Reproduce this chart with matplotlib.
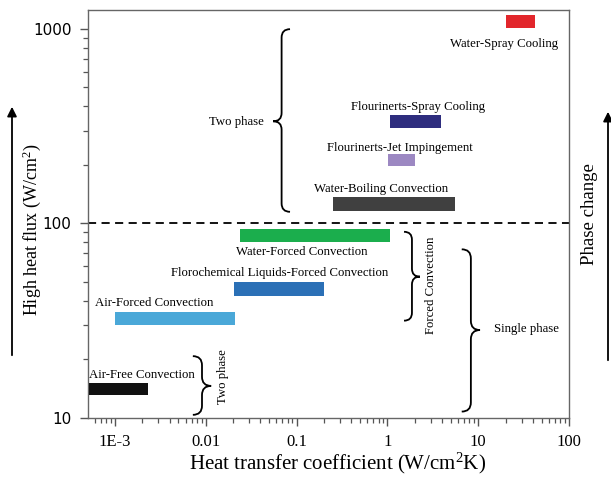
import numpy as np
import matplotlib
matplotlib.use("Agg")
import matplotlib.pyplot as plt
from matplotlib.path import Path
from matplotlib.patches import PathPatch
from matplotlib.ticker import FixedLocator, LogLocator, NullFormatter

# heat transfer coefficient ranges (W/cm2K) and heat flux ranges (W/cm2)
methods = ["Air-Free Convection", "Air-Forced Convection",
           "Florochemical Liquids-Forced Convection", "Water-Forced Convection",
           "Water-Boiling Convection", "Flourinerts-Jet Impingement",
           "Flourinerts-Spray Cooling", "Water-Spray Cooling"]
h_low = [5.2e-4, 1.0e-3, 0.0206, 0.0238, 0.254, 1.02, 1.08, 20.4]
h_high = [2.29e-3, 0.0211, 0.20, 1.07, 5.6, 2.03, 3.86, 42.0]
q_low = [13.1, 30.0, 42.4, 79.8, 115.8, 196, 308, 1016]
q_high = [15.1, 35.1, 50.0, 93.0, 136.8, 226, 359, 1180]
colors = ["#111111", "#4aa8d8", "#2b70b6", "#1bae4d",
          "#404040", "#9c88c2", "#2e2d7e", "#e2262b"]

# where the method names sit (data coords)
label_x = [1.98e-3, 2.69e-3, 0.0656, 0.115, 0.85, 1.38, 2.17, 19.2]
label_y = [16.6, 39.0, 55.6, 71.3, 150, 244, 395, 834]

xticks = [1e-3, 0.01, 0.1, 1, 10, 100]
xtick_labels = ["1E-3", "0.01", "0.1", "1", "10", "100"]
yticks = [10, 100, 1000]
ytick_labels = ["10", "100", "1000"]

SERIF = "Liberation Serif"
plt.rcParams["mathtext.fontset"] = "custom"
plt.rcParams["mathtext.rm"] = SERIF
plt.rcParams["mathtext.it"] = SERIF + ":italic"

fig = plt.figure(figsize=(6.11, 4.79), dpi=100)
W, H = 611, 479
ax = fig.add_axes([88 / W, (H - 417.7) / H, 481 / W, 407.7 / H])
ax.set_xscale("log")
ax.set_yscale("log")
ax.set_xlim(5.05e-4, 100)
ax.set_ylim(10, 1250)

ax.barh(q_low, np.array(h_high) - np.array(h_low), left=h_low,
        height=np.array(q_high) - np.array(q_low), align="edge",
        color=colors, edgecolor="none", zorder=3)

FS = 9.2
for name, x, y in zip(methods, label_x, label_y):
    ax.text(x, y, name, ha="center", va="center", fontsize=FS,
            family=SERIF, zorder=4)

ax.axhline(100, color="black", lw=1.3, ls=(0, (4.5, 3)), zorder=2)

# group labels
ax.text(0.0438, 333, "Two phase", ha="right", va="center", fontsize=FS, family=SERIF)
ax.text(0.0153, 16.3, "Two phase", ha="center", va="center", rotation=90,
        fontsize=FS, family=SERIF)
ax.text(3.0, 48, "Forced Convection", ha="center", va="center", rotation=90,
        fontsize=FS, family=SERIF)
ax.text(34.2, 28.5, "Single phase", ha="center", va="center", fontsize=FS, family=SERIF)


def brace(ax, x_end, x_tip, y_top, y_bot, y_tip):
    # curly brace in axes fraction, vertical
    bb = ax.get_position()
    axw = bb.width * W
    axh = bb.height * H
    xm = (x_end + x_tip) / 2
    hy = abs(x_tip - x_end) / 2 * axw / axh
    verts = [(x_end, y_top), (xm, y_top), (xm, y_top - hy),
             (xm, y_tip + hy), (xm, y_tip), (x_tip, y_tip),
             (xm, y_tip), (xm, y_tip - hy),
             (xm, y_bot + hy), (xm, y_bot), (x_end, y_bot)]
    codes = [Path.MOVETO, Path.CURVE3, Path.CURVE3,
             Path.LINETO, Path.CURVE3, Path.CURVE3,
             Path.CURVE3, Path.CURVE3,
             Path.LINETO, Path.CURVE3, Path.CURVE3]
    ax.add_patch(PathPatch(Path(verts, codes), transform=ax.transAxes,
                           fill=False, lw=1.3, color="black", clip_on=False))


brace(ax, 0.420, 0.385, 0.953, 0.505, 0.727)
brace(ax, 0.218, 0.256, 0.151, 0.007, 0.078)
brace(ax, 0.657, 0.690, 0.456, 0.238, 0.346)
brace(ax, 0.777, 0.815, 0.413, 0.015, 0.215)

# axes styling
for s in ax.spines.values():
    s.set_color("#666666")
    s.set_linewidth(1.0)
ax.xaxis.set_major_locator(FixedLocator(xticks))
ax.set_xticklabels(xtick_labels, family=SERIF, fontsize=12)
ax.yaxis.set_major_locator(FixedLocator(yticks))
ax.set_yticklabels(ytick_labels, family="DejaVu Sans", fontsize=11)
ax.xaxis.set_minor_locator(LogLocator(base=10, subs=np.arange(2, 10)))
ax.yaxis.set_minor_locator(LogLocator(base=10, subs=np.arange(2, 10)))
ax.xaxis.set_minor_formatter(NullFormatter())
ax.yaxis.set_minor_formatter(NullFormatter())
ax.tick_params(which="major", direction="out", length=6, width=1.0,
               color="#555555", pad=6)
ax.tick_params(which="minor", direction="out", length=3.5, width=0.9,
               color="#555555")

fig.text(338 / W, 1 - 463 / H, "Heat transfer coefficient (W/cm$^2$K)",
         ha="center", va="center", fontsize=15, family=SERIF)
fig.text(32 / W, 1 - 230 / H, "High heat flux (W/cm$^2$)", rotation=90,
         ha="center", va="center", fontsize=13, family=SERIF)
fig.text(590 / W, 1 - 214 / H, "Phase change", rotation=90,
         ha="center", va="center", fontsize=13.5, family=SERIF)

# side arrows
arrow = dict(arrowstyle="-|>", lw=1.3, color="black", mutation_scale=14)
ax.annotate("", xy=(12 / W, 1 - 104 / H), xytext=(12 / W, 1 - 358 / H),
            xycoords="figure fraction", arrowprops=arrow, annotation_clip=False)
ax.annotate("", xy=(608 / W, 1 - 109 / H), xytext=(608 / W, 1 - 363 / H),
            xycoords="figure fraction", arrowprops=arrow, annotation_clip=False)

fig.savefig("out.png", dpi=100)
